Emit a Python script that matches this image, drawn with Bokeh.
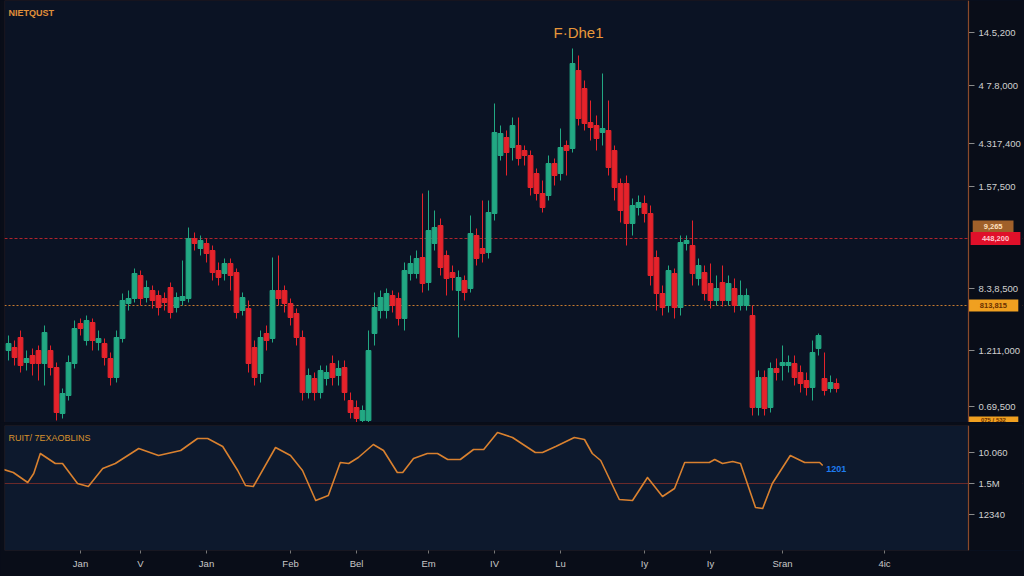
from bokeh.plotting import figure
from bokeh.layouts import column
from bokeh.models import Range1d, FixedTicker, Span, Label, ColumnDataSource, BoxAnnotation
from bokeh.core.properties import value
from bokeh.embed import file_html
from bokeh.resources import INLINE

# ---------------- data ----------------
open_ = [80, 83, 93, 68, 75, 80, 67, 80, 63, 17,
         35, 67, 107, 90, 108, 88, 87, 72, 53, 92,
         127, 132, 155, 133, 140, 135, 132, 143, 123, 130,
         132, 192, 182, 187, 180, 160, 157, 167, 158, 120,
         122, 83, 57, 97, 92, 140, 140, 127, 117, 93,
         38, 52, 38, 52, 67, 55, 63, 30, 23, 10,
         10, 97, 120, 120, 135, 132, 112, 157, 157, 173,
         148, 187, 205, 175, 158, 140, 150, 142, 195, 182,
         178, 217, 275, 293, 283, 285, 280, 275, 257, 237,
         235, 267, 257, 285, 282, 360, 342, 308, 305, 298,
         300, 280, 247, 247, 207, 223, 227, 217, 173, 137,
         125, 157, 123, 187, 185, 152, 158, 147, 130, 148,
         130, 142, 125, 125, 115, 23, 53, 23, 62, 65,
         65, 67, 58, 50, 43, 82, 52, 42, 47]
close = [87, 73, 65, 72, 67, 67, 98, 63, 18, 37,
         68, 102, 102, 110, 90, 92, 73, 53, 93, 130,
         132, 157, 132, 143, 130, 123, 128, 118, 133, 134,
         192, 187, 190, 177, 158, 153, 167, 155, 118, 133,
         67, 53, 93, 90, 140, 132, 127, 113, 93, 38,
         55, 38, 60, 58, 53, 62, 38, 18, 12, 20,
         80, 123, 133, 137, 125, 112, 160, 167, 172, 147,
         200, 203, 163, 152, 153, 153, 138, 197, 172, 177,
         218, 298, 297, 278, 305, 272, 275, 243, 237, 223,
         267, 255, 283, 280, 367, 312, 307, 303, 292, 302,
         263, 243, 220, 207, 225, 228, 217, 155, 137, 123,
         160, 123, 188, 190, 157, 165, 137, 130, 142, 130,
         147, 125, 135, 135, 23, 53, 22, 62, 58, 68,
         68, 53, 47, 43, 78, 95, 40, 48, 42]
high = [95, 90, 100, 80, 82, 85, 105, 85, 68, 42,
        75, 110, 112, 115, 112, 100, 92, 78, 100, 137,
        140, 162, 160, 150, 145, 140, 138, 148, 138, 170,
        203, 198, 195, 192, 185, 168, 172, 172, 162, 138,
        130, 90, 100, 105, 173, 175, 145, 132, 122, 100,
        62, 58, 65, 65, 75, 70, 70, 38, 30, 25,
        100, 138, 140, 142, 140, 138, 168, 175, 180, 237,
        240, 220, 212, 180, 165, 160, 155, 215, 202, 230,
        230, 327, 305, 300, 313, 313, 285, 280, 262, 250,
        275, 272, 302, 290, 382, 375, 350, 330, 315, 357,
        330, 285, 252, 255, 232, 235, 235, 225, 180, 145,
        165, 162, 195, 195, 210, 172, 165, 167, 155, 165,
        155, 152, 150, 142, 125, 60, 60, 68, 72, 85,
        75, 75, 65, 58, 90, 97, 78, 55, 52]
low = [70, 65, 58, 60, 55, 50, 45, 55, 10, 12,
       30, 62, 95, 85, 80, 80, 65, 45, 48, 88,
       120, 128, 125, 128, 122, 115, 120, 112, 118, 125,
       128, 180, 175, 168, 150, 145, 150, 140, 112, 115,
       58, 45, 48, 80, 88, 125, 118, 105, 85, 30,
       32, 30, 32, 45, 45, 45, 30, 12, 8, 8,
       8, 85, 112, 112, 118, 105, 100, 150, 152, 138,
       140, 180, 155, 135, 140, 93, 130, 138, 165, 168,
       172, 210, 270, 255, 270, 265, 265, 235, 230, 218,
       230, 245, 250, 255, 278, 305, 300, 290, 280, 285,
       255, 230, 208, 185, 195, 215, 208, 145, 120, 115,
       118, 112, 115, 180, 145, 145, 130, 122, 125, 124,
       125, 118, 120, 120, 15, 15, 15, 18, 50, 50,
       58, 45, 38, 35, 30, 75, 35, 38, 38]

price_ticks = [398, 345, 287, 244, 142, 80, 24]
price_labels = ["14.5,200", "4 7.8,000", "4.317,400", "1.57,500",
                "8.3,8,500", "1.211,000", "0.69,500"]
red_level = 192
orange_level = 125

tag_prices = [204, 192, 125, 11]
tag_texts = ["9,265", "448,200", "813,815", "075 / 532"]

ind_x = [-1.3, 0.8, 3.2, 4.2, 5.3, 7.8, 9, 11.5, 13.3, 15.7,
         17.8, 21.7, 25, 28.7, 31.5, 33.2, 35.7, 38.2, 39.5, 40.8,
         44.5, 47, 49, 51.2, 53.3, 55.3, 56.7, 58.3, 60.8, 62.5,
         64.8, 65.7, 67.5, 69.8, 71.5, 73.2, 75.3, 77.5, 79.2, 81.5,
         84, 87.8, 89, 91.2, 94.3, 96, 97.3, 98.7, 101.8, 104,
         106.5, 109, 111, 112.7, 116.8, 117.7, 119, 120.7, 122, 124.5,
         125.7, 127.3, 130.3, 132.7, 135.2, 135.7]
ind_v = [80, 76, 66, 75, 95, 85, 85, 65, 62, 80,
         85, 100, 93, 98, 110, 110, 102, 78, 63, 62,
         101, 93, 78, 48, 53, 86, 85, 91, 104, 98,
         76, 76, 90, 95, 95, 89, 89, 99, 99, 116,
         111, 96, 96, 102, 111, 109, 95, 88, 49, 48,
         71, 52, 60, 86, 86, 89, 85, 87, 85, 41,
         40, 65, 93, 86, 86, 83]
ind_ticks = [96, 65, 34]
ind_labels = ["10.060", "1.5M", "12340"]
ind_level = 65

date_ticks = [12, 22, 33, 47, 58, 70, 81, 92, 106, 117, 129, 146]
date_labels = ["Jan", "V", "Jan", "Feb", "Bel", "Em", "IV", "Lu", "Iy", "Iy", "Sran", "4ic"]

# ---------------- styling ----------------
GREEN = "#22a883"
RED = "#e5232b"
BG = "#0b1324"
BG2 = "#0d192d"
BORDER = "#090d18"
FRAME = "#6b3822"
AXLINE = "#8a4a2a"
FONT = "Liberation Sans"
X_LEFT, X_EDGE, X_RIGHT = -0.67, 160, 169   # plot edge / price-scale column
LABEL_STANDOFF = -44

idx = list(range(len(open_)))
colors = [GREEN if c > o else RED for o, c in zip(open_, close)]
src = ColumnDataSource(dict(
    x=idx,
    top=[max(o, c) for o, c in zip(open_, close)],
    bottom=[min(o, c) for o, c in zip(open_, close)],
    high=high, low=low, color=colors))

xr = Range1d(X_LEFT, X_RIGHT)


def style_price_axis(ax, ticks, labels):
    ax.ticker = FixedTicker(ticks=ticks)
    ax.major_label_overrides = {t: l for t, l in zip(ticks, labels)}
    ax.axis_line_color = None
    ax.major_tick_line_color = None
    ax.major_tick_out = 0
    ax.major_tick_in = 0
    ax.minor_tick_line_color = None
    ax.major_label_standoff = LABEL_STANDOFF
    ax.major_label_text_color = "#d0d0d0"
    ax.major_label_text_font = FONT
    ax.major_label_text_font_size = "9.5px"


def scale_column(fig, ticks):
    # dark strip holding the price scale, its edge line and tick marks
    fig.add_layout(BoxAnnotation(left=X_EDGE, fill_color=BORDER, fill_alpha=1,
                                 line_color=None, level="underlay"))
    fig.add_layout(BoxAnnotation(right=X_EDGE, fill_alpha=0, line_color=FRAME,
                                 line_width=1.2, level="underlay"))
    fig.add_layout(Span(location=X_EDGE, dimension="height", line_color=AXLINE,
                        line_width=1.2))
    fig.segment(x0=[X_EDGE] * len(ticks), x1=[X_EDGE + 1.0] * len(ticks),
                y0=ticks, y1=ticks, line_color="#8a8a8a", line_width=1)


# ---------------- main panel ----------------
main = figure(frame_width=1018, frame_height=422,
              x_range=xr, y_range=Range1d(8, 430),
              y_axis_location="right", x_axis_location=None,
              toolbar_location=None, output_backend="svg",
              min_border_left=4, min_border_top=0, min_border_bottom=0, min_border_right=2,
              background_fill_color=BG, border_fill_color=BORDER,
              outline_line_color=None)
main.grid.grid_line_color = None

main.add_layout(Span(location=red_level, dimension="width", line_color="#b0242c",
                     line_dash="3 2", line_width=1, level="underlay"))
main.add_layout(Span(location=orange_level, dimension="width", line_color="#c77a2e",
                     line_dash="2 2", line_width=1, level="underlay"))
scale_column(main, price_ticks)

main.segment(x0="x", y0="low", x1="x", y1="high", color="color", line_width=1, source=src)
main.vbar(x="x", top="top", bottom="bottom", width=0.8, fill_color="color",
          line_color="color", source=src)

style_price_axis(main.yaxis[0], price_ticks, price_labels)

# price tags in the scale column
tag_left = [X_EDGE + 0.7, X_EDGE + 0.35, X_EDGE, X_EDGE]
tag_right = [X_EDGE + 7.5, X_EDGE + 8.65, X_EDGE + 8.3, X_EDGE + 8.3]
tag_half = [6, 6.5, 6, 3]
tag_bg = ["#a0602a", "#e0102a", "#f0a020", "#f0a020"]
tag_fg = ["#ffe0c0", "#ffc8d0", "#6a3000", "#6a3000"]
tag_size = ["7.5px", "7.5px", "7.5px", "6px"]
tsrc = ColumnDataSource(dict(
    left=tag_left, right=tag_right,
    top=[p + h for p, h in zip(tag_prices, tag_half)],
    bottom=[p - h for p, h in zip(tag_prices, tag_half)],
    xc=[(l + r) / 2 for l, r in zip(tag_left, tag_right)],
    y=tag_prices, text=tag_texts, bg=tag_bg, fg=tag_fg, size=tag_size))
main.quad(left="left", right="right", top="top", bottom="bottom",
          fill_color="bg", line_color=None, source=tsrc)
main.text(x="xc", y="y", text="text", text_color="fg", text_font=value(FONT),
          text_font_size="size", text_font_style="bold", text_align="center",
          text_baseline="middle", source=tsrc)

main.add_layout(Label(x=0, y=418, text="NIETQUST", text_color="#e0903a",
                      text_font=FONT, text_font_size="9px", text_font_style="bold",
                      text_baseline="middle"))
main.add_layout(Label(x=95, y=398, text="F·Dhe1", text_color="#e8973a",
                      text_font=FONT, text_font_size="15px",
                      text_align="center", text_baseline="middle"))

# ---------------- lower panel ----------------
lower = figure(frame_width=1018, frame_height=125,
               x_range=xr, y_range=Range1d(-2, 123),
               y_axis_location="right", toolbar_location=None, output_backend="svg",
               min_border_left=4, min_border_top=3, min_border_bottom=26, min_border_right=2,
               background_fill_color=BG2, border_fill_color=BORDER,
               outline_line_color=None)
lower.grid.grid_line_color = None
lower.add_layout(Span(location=ind_level, dimension="width", line_color="#6a2a2a",
                      line_width=1, level="underlay"))
scale_column(lower, ind_ticks)
lower.line(ind_x, ind_v, line_color="#d9812f", line_width=1.6, line_join="round")

style_price_axis(lower.yaxis[0], ind_ticks, ind_labels)

xa = lower.xaxis[0]
xa.ticker = FixedTicker(ticks=date_ticks)
xa.major_label_overrides = {t: l for t, l in zip(date_ticks, date_labels)}
xa.axis_line_color = None
xa.major_tick_line_color = "#777777"
xa.major_tick_out = 3
xa.major_tick_in = 0
xa.minor_tick_line_color = None
xa.major_label_standoff = 4
xa.major_label_text_color = "#c8c8c8"
xa.major_label_text_font = FONT
xa.major_label_text_font_size = "9.5px"

lower.add_layout(Label(x=0, y=111, text="RUIT/ 7EXAOBLINS", text_color="#d8922e",
                       text_font=FONT, text_font_size="9px", text_baseline="middle"))
lower.add_layout(Label(x=136.3, y=80, text="1201", text_color="#1e7cf0",
                       text_font=FONT, text_font_size="9px", text_font_style="bold",
                       text_baseline="middle"))

layout = column(main, lower, spacing=0)
html = file_html(layout, INLINE)
html = html.replace("<head>", "<head><style>body{background:#090d18;}</style>", 1)
open("out.html", "w").write(html)
